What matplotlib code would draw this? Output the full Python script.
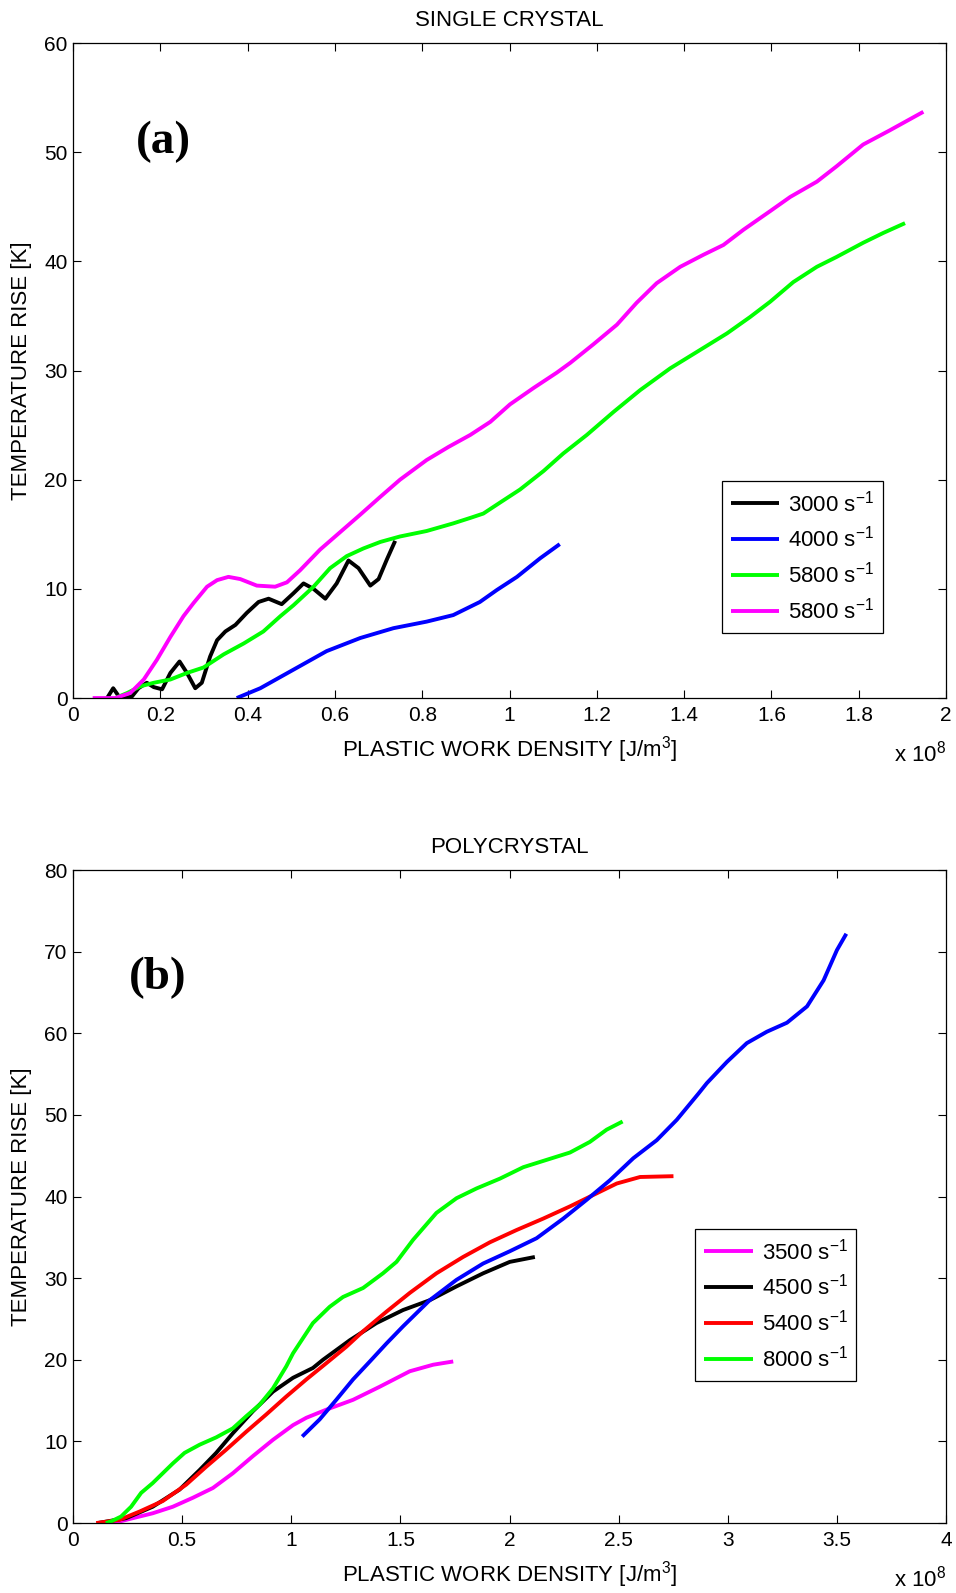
import numpy as np
import matplotlib
matplotlib.use("Agg")
import matplotlib.pyplot as plt
from matplotlib.ticker import FuncFormatter

plt.rcParams['font.family'] = ['Liberation Sans', 'DejaVu Sans']
plt.rcParams['mathtext.fontset'] = 'custom'
plt.rcParams['mathtext.rm'] = 'Liberation Sans'
plt.rcParams['mathtext.it'] = 'Liberation Sans:italic'
plt.rcParams['mathtext.bf'] = 'Liberation Sans:bold'

# ---- (a) single crystal, x in units of 1e8 J/m^3, y in K ----
sc_black_x = [0.078, 0.092, 0.105, 0.116, 0.135, 0.150, 0.169, 0.185, 0.204, 0.223, 0.244,
              0.261, 0.280, 0.295, 0.314, 0.330, 0.349, 0.372, 0.398, 0.425, 0.448, 0.478,
              0.505, 0.528, 0.551, 0.578, 0.604, 0.631, 0.654, 0.681, 0.700, 0.719, 0.738]
sc_black_y = [0, 0.9, 0.15, 0, 0.15, 0.9, 1.4, 1.0, 0.8, 2.3, 3.35,
              2.3, 0.9, 1.4, 3.8, 5.3, 6.1, 6.7, 7.8, 8.8, 9.1, 8.6,
              9.6, 10.5, 10.0, 9.1, 10.5, 12.6, 11.9, 10.3, 10.9, 12.7, 14.4]

sc_blue_x = [0.375, 0.429, 0.505, 0.581, 0.658, 0.734, 0.81, 0.871, 0.932, 0.971, 1.017, 1.07, 1.115]
sc_blue_y = [0, 0.9, 2.6, 4.3, 5.5, 6.4, 7.0, 7.6, 8.8, 9.9, 11.1, 12.8, 14.1]

sc_green_x = [0.097, 0.124, 0.154, 0.185, 0.223, 0.261, 0.299, 0.345, 0.391, 0.436, 0.475,
              0.505, 0.551, 0.589, 0.627, 0.665, 0.704, 0.749, 0.81, 0.871, 0.910, 0.940,
              0.978, 1.024, 1.078, 1.123, 1.177, 1.238, 1.299, 1.368, 1.429, 1.498, 1.551,
              1.597, 1.65, 1.704, 1.749, 1.81, 1.856, 1.906]
sc_green_y = [0, 0.46, 1.07, 1.4, 1.7, 2.3, 2.8, 4.0, 5.0, 6.1, 7.5,
              8.5, 10.2, 11.9, 13.0, 13.7, 14.3, 14.8, 15.3, 16.0, 16.5, 16.9,
              17.9, 19.1, 20.8, 22.4, 24.1, 26.2, 28.2, 30.2, 31.7, 33.4, 34.9,
              36.3, 38.1, 39.5, 40.4, 41.7, 42.6, 43.5]

sc_mag_x = [0.045, 0.097, 0.131, 0.162, 0.192, 0.223, 0.253, 0.276, 0.307, 0.33, 0.356,
            0.383, 0.421, 0.463, 0.49, 0.52, 0.566, 0.612, 0.658, 0.703, 0.749, 0.81,
            0.86, 0.910, 0.956, 1.001, 1.055, 1.108, 1.139, 1.192, 1.246, 1.291, 1.337,
            1.391, 1.444, 1.49, 1.536, 1.597, 1.643, 1.704, 1.749, 1.81, 1.871, 1.948]
sc_mag_y = [0, 0, 0.46, 1.7, 3.5, 5.6, 7.5, 8.7, 10.2, 10.8, 11.1,
            10.9, 10.3, 10.2, 10.6, 11.7, 13.6, 15.2, 16.8, 18.4, 20.0, 21.8,
            23.0, 24.1, 25.3, 26.9, 28.4, 29.8, 30.7, 32.4, 34.2, 36.2, 38.0,
            39.5, 40.6, 41.5, 42.9, 44.6, 45.9, 47.3, 48.7, 50.7, 52.0, 53.7]

sc_labels = ['3000 s$^{-1}$', '4000 s$^{-1}$', '5800 s$^{-1}$', '5800 s$^{-1}$']

# ---- (b) polycrystal ----
pc_mag_x = [0.113, 0.197, 0.274, 0.365, 0.457, 0.549, 0.641, 0.732, 0.824, 0.916,
            1.008, 1.069, 1.161, 1.283, 1.405, 1.543, 1.65, 1.742]
pc_mag_y = [0, 0.08, 0.6, 1.2, 2.0, 3.1, 4.3, 6.1, 8.2, 10.2,
            12.0, 12.9, 13.9, 15.1, 16.7, 18.6, 19.4, 19.8]

pc_black_x = [0.113, 0.243, 0.365, 0.488, 0.58, 0.656, 0.732, 0.824, 0.916, 1.008,
              1.099, 1.145, 1.268, 1.39, 1.512, 1.634, 1.757, 1.879, 2.001, 2.116]
pc_black_y = [0, 0.6, 2.0, 4.1, 6.5, 8.6, 11.0, 13.7, 16.1, 17.8,
              19.0, 20.0, 22.4, 24.5, 26.1, 27.3, 29.0, 30.6, 32.0, 32.6]

pc_red_x = [0.106, 0.213, 0.304, 0.411, 0.518, 0.61, 0.702, 0.794, 0.885, 0.977, 1.069,
            1.161, 1.252, 1.329, 1.436, 1.543, 1.665, 1.787, 1.91, 2.032, 2.154, 2.277,
            2.384, 2.491, 2.598, 2.751]
pc_red_y = [0, 0.4, 1.4, 2.7, 4.7, 6.9, 9.0, 11.2, 13.3, 15.5, 17.6,
            19.6, 21.6, 23.5, 25.9, 28.2, 30.6, 32.6, 34.4, 35.9, 37.3, 38.8,
            40.2, 41.6, 42.4, 42.5]

pc_green_x = [0.15, 0.174, 0.22, 0.266, 0.312, 0.365, 0.411, 0.457, 0.511, 0.58, 0.656,
              0.732, 0.794, 0.855, 0.916, 0.977, 1.008, 1.099, 1.176, 1.237, 1.329, 1.42,
              1.482, 1.558, 1.665, 1.757, 1.849, 1.956, 2.063, 2.17, 2.277, 2.368, 2.445, 2.518]
pc_green_y = [0, 0.2, 0.8, 2.0, 3.7, 4.9, 6.1, 7.3, 8.6, 9.6, 10.5,
              11.6, 13.1, 14.5, 16.5, 19.2, 20.8, 24.5, 26.5, 27.7, 28.8, 30.6,
              32.0, 34.7, 38.0, 39.8, 41.0, 42.2, 43.6, 44.5, 45.4, 46.7, 48.2, 49.2]

pc_blue_x = [1.05, 1.13, 1.206, 1.283, 1.36, 1.436, 1.512, 1.634, 1.757, 1.879, 2.001,
             2.124, 2.246, 2.353, 2.46, 2.567, 2.674, 2.766, 2.865, 2.904, 2.996, 3.087,
             3.179, 3.271, 3.363, 3.439, 3.5, 3.543]
pc_blue_y = [10.6, 12.7, 15.1, 17.6, 19.8, 22.0, 24.1, 27.3, 29.8, 31.8, 33.3,
             34.9, 37.3, 39.6, 42.0, 44.7, 46.9, 49.4, 52.6, 53.9, 56.5, 58.8,
             60.2, 61.3, 63.3, 66.5, 70.2, 72.2]

pc_labels = ['3500 s$^{-1}$', '4500 s$^{-1}$', '5400 s$^{-1}$', '8000 s$^{-1}$']

LW = 2.8
fmt = FuncFormatter(lambda v, p: '%g' % v)


def style_axes(ax, title, xmax, xstep, ymax, panel, panel_pos, leg_pos):
    ax.set_xlim(0, xmax)
    ax.set_ylim(0, ymax)
    ax.set_xticks(np.arange(0, xmax + 1e-9, xstep))
    ax.set_yticks(np.arange(0, ymax + 1e-9, 10))
    ax.xaxis.set_major_formatter(fmt)
    ax.tick_params(direction='in', length=6, width=0.8, labelsize=15,
                   top=True, right=True)
    ax.tick_params(axis='x', pad=6)
    ax.tick_params(axis='y', pad=4)
    for s in ax.spines.values():
        s.set_linewidth(0.9)
    ax.set_title(title, fontsize=16, pad=12)
    ax.set_xlabel('PLASTIC WORK DENSITY [J/m$^3$]', fontsize=16)
    ax.set_ylabel('TEMPERATURE RISE [K]', fontsize=16)
    ax.xaxis.set_label_coords(0.5, -0.055)
    ax.yaxis.set_label_coords(-0.047, 0.5)
    ax.text(1.0, -0.085, r'x 10$^8$', transform=ax.transAxes, ha='right',
            va='center', fontsize=16)
    ax.text(panel_pos[0], panel_pos[1], panel, transform=ax.transAxes,
            family='Liberation Serif', fontweight='bold', fontsize=34,
            ha='left', va='center')
    leg = ax.legend(loc='upper left', bbox_to_anchor=leg_pos, borderaxespad=0,
                    fontsize=16, handlelength=2.2, handletextpad=0.4,
                    labelspacing=0.45, borderpad=0.4, fancybox=False,
                    framealpha=1, edgecolor='black')
    leg.get_frame().set_linewidth(0.9)


fig = plt.figure(figsize=(9.56, 15.93), dpi=100)
ax1 = fig.add_axes([0.0764, 0.5618, 0.9132, 0.4112])
ax2 = fig.add_axes([0.0764, 0.0439, 0.9132, 0.4099])

kw = dict(lw=LW, solid_joinstyle='round', solid_capstyle='butt')
ax1.plot(sc_black_x, sc_black_y, color='#000000', label=sc_labels[0], **kw)
ax1.plot(sc_blue_x, sc_blue_y, color='#0000ff', label=sc_labels[1], **kw)
ax1.plot(sc_green_x, sc_green_y, color='#00ff00', label=sc_labels[2], **kw)
ax1.plot(sc_mag_x, sc_mag_y, color='#ff00ff', label=sc_labels[3], **kw)
style_axes(ax1, 'SINGLE CRYSTAL', 2, 0.2, 60, '(a)', (0.072, 0.849), (0.743, 0.331))

ax2.plot(pc_mag_x, pc_mag_y, color='#ff00ff', label=pc_labels[0], **kw)
ax2.plot(pc_black_x, pc_black_y, color='#000000', label=pc_labels[1], **kw)
ax2.plot(pc_red_x, pc_red_y, color='#ff0000', label=pc_labels[2], **kw)
ax2.plot(pc_green_x, pc_green_y, color='#00ff00', label=pc_labels[3], **kw)
ax2.plot(pc_blue_x, pc_blue_y, color='#0000ff', **kw)
style_axes(ax2, 'POLYCRYSTAL', 4, 0.5, 80, '(b)', (0.064, 0.835), (0.7125, 0.450))

fig.savefig('out.png', dpi=100)
